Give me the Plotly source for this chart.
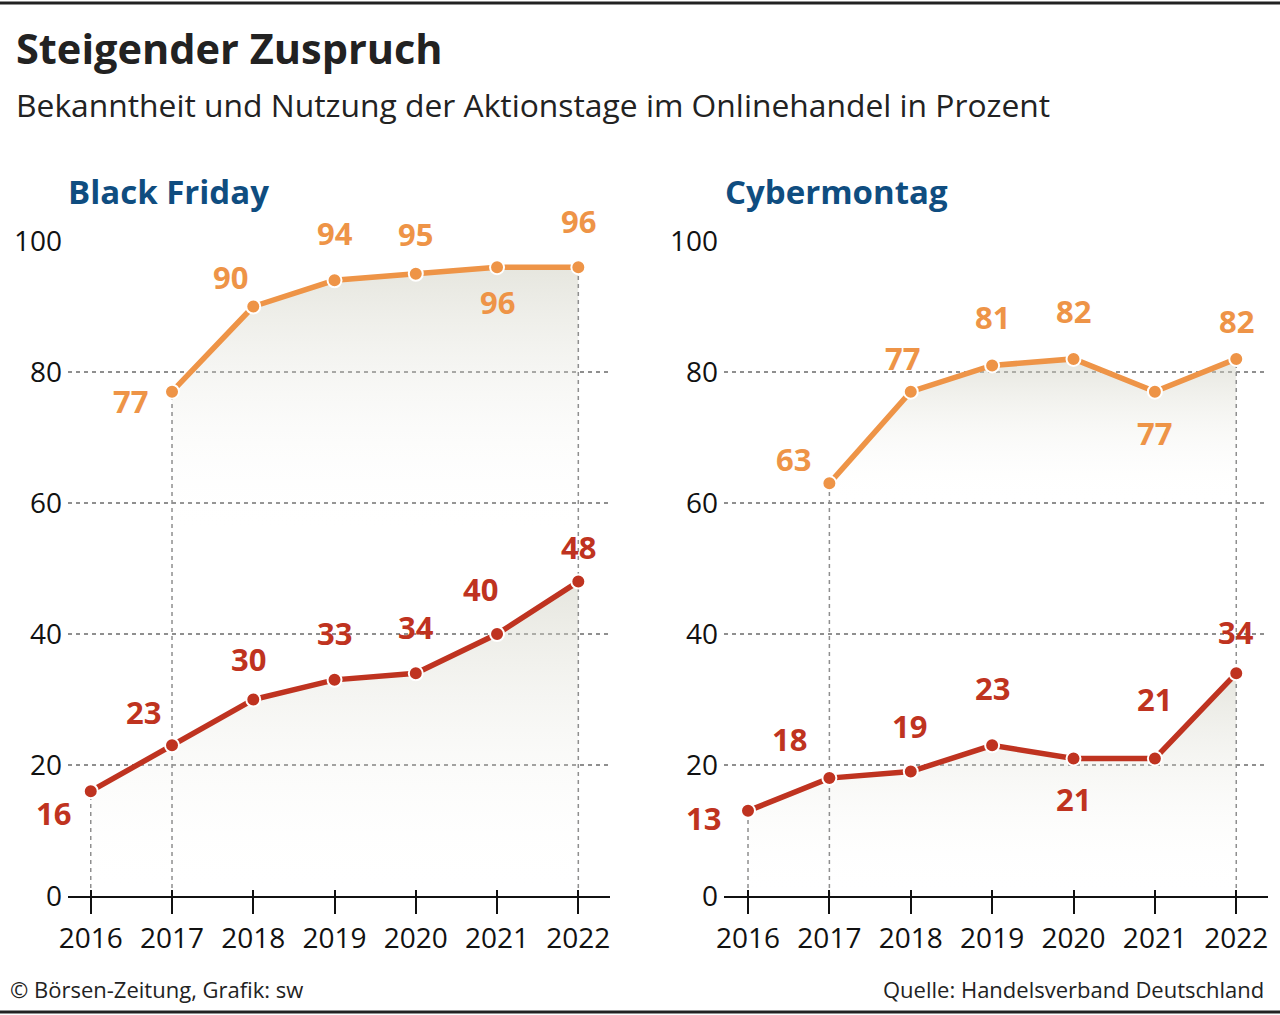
import plotly.graph_objects as go

# ---------------- data ----------------
years = [2016, 2017, 2018, 2019, 2020, 2021, 2022]
bf_years_aware = [2017, 2018, 2019, 2020, 2021, 2022]
bf_aware = [77, 90, 94, 95, 96, 96]           # Bekanntheit Black Friday
bf_usage = [16, 23, 30, 33, 34, 40, 48]       # Nutzung Black Friday
cm_years_aware = [2017, 2018, 2019, 2020, 2021, 2022]
cm_aware = [63, 77, 81, 82, 77, 82]           # Bekanntheit Cybermontag
cm_usage = [13, 18, 19, 23, 21, 21, 34]       # Nutzung Cybermontag
y_ticks = [0, 20, 40, 60, 80, 100]
x_ticks = years
panel_titles = ["Black Friday", "Cybermontag"]

# ---------------- styles ----------------
ORANGE = "#EE9447"
RED = "#BF3320"
BLUE = "#0F4D80"
GRID = "#8f8f8f"
FONT = "Open Sans"

# label offsets (px) for each value label: (dx, dy) with dy positive = up
bf_aware_off = [(-42, -9), (-23, 30), (0, 47), (0, 40), (0, -35), (0, 46)]
bf_usage_off = [(-37, -22), (-29, 33), (-5, 41), (0, 47), (0, 46), (-17, 45), (0, 35)]
cm_aware_off = [(-36, 24), (-8, 34), (0, 48), (0, 48), (0, -41), (0, 38)]
cm_usage_off = [(-45, -7), (-40, 39), (-1, 46), (0, 57), (0, -41), (0, 59), (0, 41)]

H = 1015
W = 1280
fig = go.Figure()

GRAD = [[0, "rgba(255,255,255,0)"], [1, "rgba(205,205,190,0.5)"]]

def add_panel(xa, ya, xs_a, aware, xs_u, usage, grad_a):
    # gradient fills
    fig.add_trace(go.Scatter(x=xs_a, y=aware, mode="none", fill="tozeroy",
                             fillgradient=dict(type="vertical", start=grad_a[0], stop=grad_a[1],
                                               colorscale=GRAD),
                             xaxis=xa, yaxis=ya, hoverinfo="skip", showlegend=False))
    fig.add_trace(go.Scatter(x=xs_u, y=usage, mode="none", fill="tozeroy",
                             fillgradient=dict(type="vertical", start=0, stop=max(usage),
                                               colorscale=GRAD),
                             xaxis=xa, yaxis=ya, hoverinfo="skip", showlegend=False))
    # vertical dashed guides
    guides = [(xs_u[0], usage[0]), (xs_a[0], aware[0]), (xs_a[-1], aware[-1])]
    for gx, gy in guides:
        fig.add_trace(go.Scatter(x=[gx, gx], y=[0, gy], mode="lines",
                                 line=dict(color=GRID, width=1.5, dash="4px,4px"),
                                 xaxis=xa, yaxis=ya, hoverinfo="skip", showlegend=False))
    # lines
    for xs, ys, col in [(xs_a, aware, ORANGE), (xs_u, usage, RED)]:
        fig.add_trace(go.Scatter(x=xs, y=ys, mode="lines+markers",
                                 line=dict(color=col, width=5.5),
                                 marker=dict(color=col, size=14, line=dict(color="white", width=2)),
                                 xaxis=xa, yaxis=ya, showlegend=False))

add_panel("x", "y", bf_years_aware, bf_aware, years, bf_usage, (55, 96))
add_panel("x2", "y2", cm_years_aware, cm_aware, years, cm_usage, (60, 82))

# invisible traces so the overlay tick axes are drawn
fig.add_trace(go.Scatter(x=[years[0]], y=[0], mode="markers", marker=dict(opacity=0),
                         xaxis="x3", yaxis="y", hoverinfo="skip", showlegend=False))
fig.add_trace(go.Scatter(x=[years[0]], y=[0], mode="markers", marker=dict(opacity=0),
                         xaxis="x4", yaxis="y2", hoverinfo="skip", showlegend=False))

# value labels
def add_labels(xref, yref, xs, ys, offs, col):
    for xv, yv, (dx, dy) in zip(xs, ys, offs):
        fig.add_annotation(x=xv, y=yv, xref=xref, yref=yref, text=str(yv), showarrow=False,
                           xshift=dx, yshift=dy,
                           font=dict(family=FONT, size=31, color=col, weight="bold"))

add_labels("x", "y", bf_years_aware, bf_aware, bf_aware_off, ORANGE)
add_labels("x", "y", years, bf_usage, bf_usage_off, RED)
add_labels("x2", "y2", cm_years_aware, cm_aware, cm_aware_off, ORANGE)
add_labels("x2", "y2", years, cm_usage, cm_usage_off, RED)

ydom = [(H - 896) / H, (H - 241) / H]
xaxis_common = dict(tickmode="array", tickvals=x_ticks, showgrid=False, zeroline=False,
                    showline=True, linecolor="#111", linewidth=2, ticks="outside",
                    ticklen=16, tickwidth=2, tickcolor="#111", automargin=False,
                    tickfont=dict(family=FONT, size=28, color="#111"), fixedrange=True)
xaxis_inner = dict(tickmode="array", tickvals=x_ticks, showgrid=False, zeroline=False,
                   showline=False, ticks="inside", ticklen=6, tickwidth=2, tickcolor="#111",
                   showticklabels=False, automargin=False, fixedrange=True)
yaxis_common = dict(range=[0, 100], tickmode="array", tickvals=y_ticks, showgrid=True,
                    gridcolor=GRID, gridwidth=1.5, griddash="4px,4px", zeroline=False,
                    showline=False, ticks="", automargin=False, ticklabelstandoff=5,
                    tickfont=dict(family=FONT, size=28, color="#111"),
                    domain=ydom, fixedrange=True)

xdom1 = [68 / W, 610 / W]
xdom2 = [724 / W, 1268 / W]
xr1 = [2015.72, 2022.39]
xr2 = [2015.705, 2022.39]

fig.update_layout(
    width=W, height=H,
    margin=dict(l=0, r=0, t=0, b=0, autoexpand=False),
    paper_bgcolor="white", plot_bgcolor="rgba(0,0,0,0)",
    xaxis=dict(domain=xdom1, range=xr1, anchor="y", **xaxis_common),
    yaxis=dict(anchor="x", **yaxis_common),
    xaxis2=dict(domain=xdom2, range=xr2, anchor="y2", **xaxis_common),
    yaxis2=dict(anchor="x2", **yaxis_common),
    xaxis3=dict(domain=xdom1, range=xr1, anchor="y", overlaying="x", **xaxis_inner),
    xaxis4=dict(domain=xdom2, range=xr2, anchor="y2", overlaying="x2", **xaxis_inner),
)

# titles and texts
fig.add_annotation(x=14 / W, y=1 - 48 / H, xref="paper", yref="paper", xanchor="left", yanchor="middle",
                   text="<b>Steigender Zuspruch</b>", showarrow=False,
                   font=dict(family=FONT, size=41.5, color="#222"))
fig.add_annotation(x=14 / W, y=1 - 104 / H, xref="paper", yref="paper", xanchor="left", yanchor="middle",
                   text="Bekanntheit und Nutzung der Aktionstage im Onlinehandel in Prozent", showarrow=False,
                   font=dict(family=FONT, size=31.8, color="#222"))
fig.add_annotation(x=66 / W, y=1 - 191 / H, xref="paper", yref="paper", xanchor="left", yanchor="middle",
                   text="<b>" + panel_titles[0] + "</b>", showarrow=False,
                   font=dict(family=FONT, size=33, color=BLUE))
fig.add_annotation(x=723 / W, y=1 - 191 / H, xref="paper", yref="paper", xanchor="left", yanchor="middle",
                   text="<b>" + panel_titles[1] + "</b>", showarrow=False,
                   font=dict(family=FONT, size=33, color=BLUE))
fig.add_annotation(x=8 / W, y=1 - 989 / H, xref="paper", yref="paper", xanchor="left", yanchor="middle",
                   text="© Börsen-Zeitung, Grafik: sw", showarrow=False,
                   font=dict(family=FONT, size=22, color="#222"))
fig.add_annotation(x=1266 / W, y=1 - 989 / H, xref="paper", yref="paper", xanchor="right", yanchor="middle",
                   text="Quelle: Handelsverband Deutschland", showarrow=False,
                   font=dict(family=FONT, size=22, color="#222"))

# frame lines top and bottom
fig.add_shape(type="line", xref="paper", yref="paper", x0=0, x1=1, y0=1 - 3 / H, y1=1 - 3 / H,
              line=dict(color="#222", width=3))
fig.add_shape(type="line", xref="paper", yref="paper", x0=0, x1=1, y0=1 - 1012 / H, y1=1 - 1012 / H,
              line=dict(color="#222", width=3))

fig.write_html("out.html", config={"displayModeBar": False},
               post_script="document.body.style.margin='0';document.body.style.overflow='hidden';")
